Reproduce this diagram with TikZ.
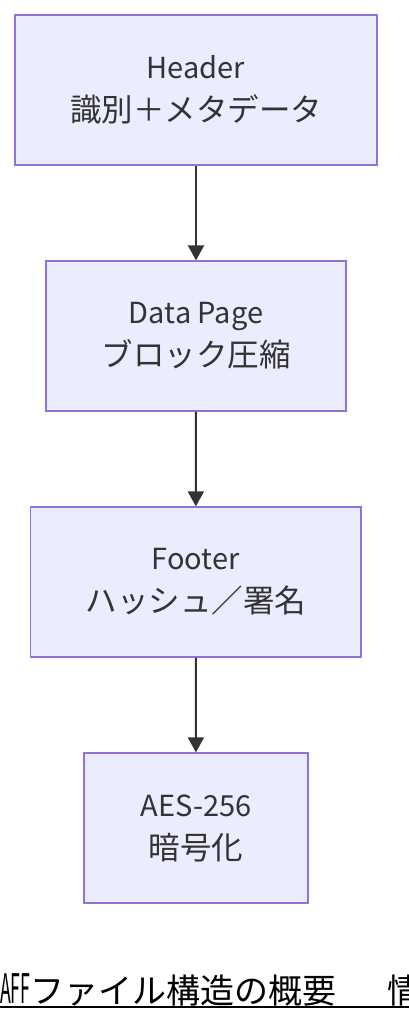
\documentclass[tikz,border=0pt]{standalone}
\usepackage{fontspec}
\setmainfont{Noto Sans CJK JP}
\usepackage{graphicx}
\usetikzlibrary{arrows.meta}
\definecolor{boxfill}{HTML}{ECECFF}
\definecolor{boxline}{HTML}{9370DB}
\definecolor{txt}{HTML}{333333}
\newcommand{\jline}[1]{{\fontsize{31.5}{43}\selectfont #1}}
\begin{document}
\begin{tikzpicture}[x=1pt,y=-1pt,
  box/.style={draw=boxline, line width=1.3pt, fill=boxfill, text=txt, align=center,
    font=\fontsize{29}{43}\selectfont, inner sep=0pt, minimum height=150pt},
  conn/.style={draw=txt, line width=2pt, -{Triangle[length=15pt,width=16pt]}}]
\useasboundingbox (0,0) rectangle (408,1020);
\node[box, minimum width=362pt] (h) at (196,90) {Header\\\jline{識別＋メタデータ}};
\node[box, minimum width=300pt] (d) at (196,336) {Data Page\\\jline{ブロック圧縮}};
\node[box, minimum width=330.5pt] (f) at (195.75,582) {Footer\\\jline{ハッシュ／署名}};
\node[box, minimum width=224pt] (a) at (196,828) {AES-256\\\jline{暗号化}};
\draw[conn] (h) -- (d);
\draw[conn] (d) -- (f);
\draw[conn] (f) -- (a);
\node[anchor=base west, inner sep=0pt, font=\fontsize{34}{34}\selectfont, text=black] (t) at (0,1003)
  {\scalebox{0.52}[1.2]{AFF}ファイル構造の概要\hspace{51pt}情報};
\draw[line width=2pt] ([yshift=-4pt]t.base west) -- ([yshift=-4pt]t.base east);
\end{tikzpicture}
\end{document}
